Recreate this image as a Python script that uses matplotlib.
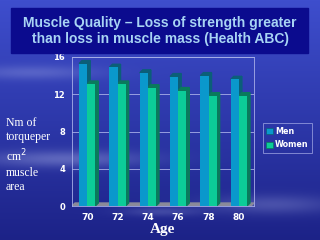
import matplotlib.pyplot as plt
import numpy as np
from matplotlib.patches import Polygon, Rectangle, Patch

# Data
ages = ['70', '72', '74', '76', '78', '80']
men = [15.3, 14.9, 14.3, 13.9, 14.0, 13.6]
women = [13.1, 13.1, 12.7, 12.4, 11.85, 11.85]
y_ticks = [0, 4, 8, 12, 16]
series = ['Men', 'Women']

title = "Muscle Quality \u2013 Loss of strength greater\nthan loss in muscle mass (Health ABC)"
y_label = "Nm of\ntorqueper\ncm$^{2}$\nmuscle\narea"
x_label = "Age"

# Colours
men_front, men_side = '#0a98cc', '#0b5f78'
women_front, women_side = '#0ccc98', '#0a7a5c'
title_box = '#0b0b8e'
title_color = '#a8d4f4'

fig = plt.figure(figsize=(3.2, 2.4), dpi=100)

# background: blue gradient with some soft light streaks
bg = fig.add_axes([0, 0, 1, 1], zorder=-5)
h, w = 240, 320
yy, xx = np.mgrid[0:h, 0:w] / np.array([h, w])[:, None, None]
top = np.array([62, 78, 205]) / 255
bot = np.array([28, 34, 135]) / 255
img = top[None, None, :] * (1 - yy[..., None]) + bot[None, None, :] * yy[..., None]
streaks = (0.35 * np.exp(-((yy - 0.66) / 0.035) ** 2) * np.exp(-((xx - 0.2) / 0.25) ** 2)
           + 0.25 * np.exp(-((yy - 0.30) / 0.03) ** 2) * np.exp(-((xx - 0.1) / 0.2) ** 2)
           + 0.2 * np.exp(-((yy - 0.88) / 0.02) ** 2) * np.exp(-((xx - 0.5) / 0.12) ** 2)
           + 0.25 * np.exp(-((yy - 0.85) / 0.04) ** 2) * np.exp(-((xx - 0.85) / 0.2) ** 2))
img = img + streaks[..., None] * (np.array([0.75, 0.78, 0.95]) - img)
bg.imshow(np.clip(img, 0, 1), aspect='auto', extent=[0, 1, 0, 1])
bg.set_axis_off()

# title box
fig.patches.append(Rectangle((11 / 320, 1 - 53 / 240), 297 / 320, 45 / 240,
                             transform=fig.transFigure, color=title_box, zorder=1))
fig.text(0.5, 1 - 31 / 240, title, ha='center', va='center', color=title_color,
         fontsize=10, fontweight='bold', family='Liberation Sans', linespacing=1.15)

ax = fig.add_axes([72 / 320, 1 - 206 / 240, 182 / 320, 149 / 240])
ax.set_facecolor('none')

x = np.arange(len(ages)) + 0.5
bw = 0.267
dx, dy = 0.1, 0.32

for xs, vals, fc, sc in [(x - bw / 2, men, men_front, men_side),
                         (x + bw / 2, women, women_front, women_side)]:
    ax.bar(xs, vals, width=bw, color=fc, zorder=3)
    for xc, v in zip(xs, vals):
        r = xc + bw / 2
        l = xc - bw / 2
        ax.add_patch(Polygon([(r, 0), (r + dx, dy), (r + dx, v + dy), (r, v)],
                             closed=True, color=sc, zorder=2))
        ax.add_patch(Polygon([(l, v), (l + dx, v + dy), (r + dx, v + dy), (r, v)],
                             closed=True, color=sc, zorder=2))

# floor
ax.add_patch(Polygon([(0, 0), (dx, dy), (6, dy), (6 - dx, 0)], closed=True,
                     color='#8a8a9a', zorder=1))

ax.set_xlim(0, 6)
ax.set_ylim(0, 16)
ax.set_yticks(y_ticks)
ax.set_xticks(x)
ax.set_xticklabels(ages)
ax.tick_params(axis='both', colors='white', length=0, labelsize=6)
ax.tick_params(axis='x', labelsize=6.5)
ax.tick_params(axis='y', pad=5)
ax.tick_params(axis='x', pad=5)
for lab in ax.get_xticklabels() + ax.get_yticklabels():
    lab.set_fontweight('bold')
ax.yaxis.grid(True, color='#a8aee8', lw=0.6, zorder=0)
ax.set_axisbelow(True)
for s in ax.spines.values():
    s.set_color('#a8aee8')
    s.set_linewidth(0.6)

ax.set_xlabel(x_label, color='white', fontsize=11, fontweight='bold',
              family='Liberation Serif', labelpad=1)
fig.text(6 / 320, 1 - 155 / 240, y_label, ha='left', va='center', color='white',
         fontsize=8.5, family='Liberation Serif', linespacing=1.3)

# legend
handles = [Patch(facecolor=men_front, edgecolor=men_side, lw=0.5),
           Patch(facecolor=women_front, edgecolor=women_side, lw=0.5)]
leg = fig.legend(handles, series, loc='center left',
                 bbox_to_anchor=(263 / 320, 1 - 138 / 240),
                 fontsize=5.8, frameon=True, fancybox=False, handlelength=0.8,
                 handleheight=0.8, handletextpad=0.3, borderpad=0.4, labelspacing=0.6,
                 borderaxespad=0)
leg.get_frame().set_facecolor('none')
leg.get_frame().set_edgecolor('#a8aee8')
leg.get_frame().set_linewidth(0.6)
for t in leg.get_texts():
    t.set_color('white')
    t.set_fontweight('bold')

fig.savefig('out.png', dpi=100)
